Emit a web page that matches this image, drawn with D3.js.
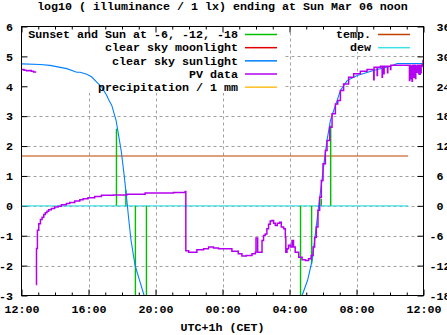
<!DOCTYPE html>
<html><head><meta charset="utf-8">
<script src="https://cdn.jsdelivr.net/npm/d3@7"></script>
<style>
html,body{margin:0;padding:0;background:#fff;}
svg{display:block;}
text{font-family:"Liberation Mono","DejaVu Sans Mono",monospace;font-weight:bold;font-size:11.67px;fill:#000;white-space:pre;}
</style></head>
<body>
<svg id="c" width="447" height="335"></svg>
<script>
// ---- data (time in hours from Mar 05 00:00; 24+ = Mar 06) ----
const title = "log10 ( illuminance / 1 lx) ending at Sun Mar 06 noon";
const xLabel = "UTC+1h (CET)";
const xTicks = [12,16,20,24,28,32,36];
const yTicks = [-3,-2,-1,0,1,2,3,4,5,6];
const y2Ticks = [-18,-12,-6,0,6,12,18,24,30,36];

// clear sky sunlight (log10 lx)
const sunEvening = [[12.03,4.75],[13.11,4.73],[13.70,4.70],[14.70,4.59],[15.30,4.47],[15.50,4.47],[15.90,4.40],[16.20,4.31],[16.49,4.14],[16.79,3.97],[17.09,3.69],[17.23,3.52],[17.39,3.36],[17.59,2.97],[17.65,2.85],[17.95,1.85],[18.13,1.02],[18.29,0.18],[18.41,-0.49],[18.54,-1.16],[18.78,-1.99],[19.08,-2.55],[19.32,-3.0]];
const sunMorning = [[28.75,-3.0],[29.08,-2.49],[29.35,-1.83],[29.50,-1.16],[29.64,-0.49],[29.78,0.18],[29.94,0.85],[30.08,1.52],[30.24,2.19],[30.44,2.85],[30.64,3.19],[30.84,3.52],[31.04,3.86],[31.44,4.19],[32.04,4.36],[33.01,4.53],[34.03,4.67],[34.43,4.76],[36.0,4.76]];

// sunset / sunrise and sun at -6, -12, -18 deg: [time, top value]
const sunEventTimes = [17.67,18.23,18.80,19.46,28.66,29.32,29.90,30.46];
const sunEventTops  = [2.58,0.54,-3.0,-3.0,-3.0,-1.94,0.24,2.69];

// PV data (log10 lx)
const pvNoon = [[12.00,4.56],[12.15,4.54],[12.30,4.52],[12.45,4.53],[12.58,4.50],[12.72,4.48],[12.88,4.48]];
const pvMain = [[12.89,-2.64],[12.895,-1.43],[12.95,-0.82],[13.03,-0.60],[13.13,-0.46],[13.23,-0.38],[13.33,-0.29],[13.42,-0.23],[13.52,-0.18],[13.62,-0.13],[13.78,-0.09],[13.98,-0.04],[14.18,-0.01],[14.38,0.04],[14.68,0.08],[14.88,0.11],[15.18,0.16],[15.48,0.20],[15.68,0.24],[15.97,0.27],[16.37,0.31],[16.77,0.35],[17.49,0.36],[18.29,0.39],[19.38,0.43],[21.07,0.45],[21.77,0.48],
 [21.81,-1.50],[21.98,-1.55],[22.47,-1.47],[22.87,-1.44],[23.17,-1.38],[23.46,-1.41],[23.76,-1.44],[24.56,-1.52],[24.94,-1.60],[25.16,-1.68],[25.42,-1.66],[25.76,-1.60],[25.96,-1.55],[26.00,-1.08],[26.10,-1.55],[26.36,-1.16],[26.45,-0.99],[26.55,-0.94],[26.65,-0.77],[26.75,-0.62],[26.85,-0.51],[26.95,-0.49],[27.05,-0.58],[27.15,-0.66],[27.27,-0.58],[27.41,-0.55],[27.51,-0.71],[27.65,-0.77],[27.75,-1.05],[27.78,-1.55],[27.85,-1.44],[27.94,-1.32],[28.05,-1.38],[28.15,-1.16],[28.24,-1.38],[28.34,-1.55],[28.55,-1.72],[28.75,-1.80],[28.95,-1.83],[29.14,-1.77],[29.29,-1.66],[29.41,-1.38],[29.50,-1.05],[29.60,-0.71],[29.70,-0.15],[29.80,0.29],[29.90,0.85],[30.00,1.41],[30.14,1.85],[30.24,2.19],[30.40,2.63],[30.54,3.08],[30.74,3.41],[30.88,3.52],[31.04,3.86],[31.23,4.08],[31.53,4.30],[31.83,4.42],[32.23,4.50],[32.63,4.56],
 [33.03,4.22],[33.05,4.64],[33.23,4.36],[33.25,4.64],[33.43,4.67],[33.53,4.30],[33.55,4.67],[33.63,4.42],[33.65,4.67],[33.85,4.45],[33.87,4.67],[34.03,4.56],[34.05,4.70],
 [35.10,4.70],[35.16,4.19],[35.18,4.70],[35.22,4.25],[35.24,4.68],[35.32,4.17],[35.34,4.70],[35.42,4.30],[35.44,4.70],[35.52,4.26],[35.54,4.68],[35.62,4.47],[35.64,4.70],[35.72,4.42],[35.76,4.40],[35.80,4.70],[35.84,4.45],[35.86,4.66],[35.92,4.72],[35.97,4.86],[36.0,4.86]];

// temperature and dew point (deg C, right axis)
const tempSeries = [[12.0,10.0],[35.08,10.0]];
const dewSeries  = [[12.0,0.0],[35.08,0.0]];

const legendLeft = [
  {label:"Sunset and Sun at -6, -12, -18", color:"#00c000"},
  {label:"clear sky moonlight", color:"#e00000"},
  {label:"clear sky sunlight", color:"#0080ff"},
  {label:"PV data", color:"#b400f0"},
  {label:"precipitation / 1 mm", color:"#ffc020"}];
const legendRight = [
  {label:"temp.", color:"#c04000"},
  {label:"dew", color:"#40e0e8"}];

// ---- drawing ----
const svg = d3.select("#c");
const L=21.5, R=423.5, T=26.5, B=295.5;
const x = d3.scaleLinear().domain([12,36]).range([L,R]);
const y = d3.scaleLinear().domain([-3,6]).range([B,T]);
const y2 = d3.scaleLinear().domain([-18,36]).range([B,T]);
const hh = d => String(d%24).padStart(2,"0")+":00";

svg.append("text").attr("x",(L+R)/2).attr("y",9.5).attr("text-anchor","middle").text(title);
svg.append("text").attr("x",(L+R)/2).attr("y",331).attr("text-anchor","middle").text(xLabel);

// grid
const grid = svg.append("g").attr("stroke","#a0a0a0").attr("stroke-width",1).attr("stroke-dasharray","3,3");
xTicks.filter(t=>t>12&&t<36).forEach(t=>grid.append("line").attr("x1",Math.round(x(t))+0.5).attr("x2",Math.round(x(t))+0.5).attr("y1",T).attr("y2",B));
yTicks.filter(t=>t>-3&&t<6).forEach(t=>grid.append("line").attr("x1",L).attr("x2",R).attr("y1",Math.round(y(t))+0.5).attr("y2",Math.round(y(t))+0.5));

// opaque key boxes
svg.append("rect").attr("x",L+0.5).attr("y",T+0.5).attr("width",262).attr("height",66).attr("fill","#fff");
svg.append("rect").attr("x",326).attr("y",T+0.5).attr("width",R-326-0.5).attr("height",25).attr("fill","#fff");

// axes
function styleAxis(g){ g.select(".domain").remove(); g.selectAll("line").attr("stroke","#000"); g.selectAll("text").attr("font-family",null).attr("font-size",null).attr("fill",null); g.attr("font-family",null).attr("font-size",null); }
const minor = d3.range(12,37,1).filter(h=>h%4!==0);
svg.append("g").attr("transform",`translate(0,${B})`).call(d3.axisBottom(x).tickValues(xTicks).tickFormat(hh).tickSize(-6).tickPadding(9)).call(styleAxis);
svg.append("g").attr("transform",`translate(0,${B})`).call(d3.axisBottom(x).tickValues(minor).tickFormat("").tickSize(-3)).call(styleAxis);
svg.append("g").attr("transform",`translate(0,${T})`).call(d3.axisTop(x).tickValues(xTicks).tickFormat("").tickSize(-6)).call(styleAxis);
svg.append("g").attr("transform",`translate(0,${T})`).call(d3.axisTop(x).tickValues(minor).tickFormat("").tickSize(-3)).call(styleAxis);
svg.append("g").attr("transform",`translate(${L},0)`).call(d3.axisLeft(y).tickValues(yTicks).tickFormat(d=>String(d)).tickSize(-6).tickPadding(8.5)).call(styleAxis);
svg.append("g").attr("transform",`translate(${R},0)`).call(d3.axisRight(y2).tickValues(y2Ticks).tickFormat(d=>(d<0?"":"\u00a0")+String(d)).tickSize(-6).tickPadding(6)).call(styleAxis);

// clip
svg.append("clipPath").attr("id","clip").append("rect").attr("x",L).attr("y",T).attr("width",R-L).attr("height",B-T);
const plot = svg.append("g").attr("clip-path","url(#clip)").attr("fill","none");

const lineY = d3.line().x(d=>x(d[0])).y(d=>y(d[1]));
const stepY = d3.line().x(d=>x(d[0])).y(d=>y(d[1])).curve(d3.curveStepAfter);
const lineY2 = d3.line().x(d=>x(d[0])).y(d=>y2(d[1]));

plot.append("path").attr("d",lineY2(dewSeries)).attr("stroke",legendRight[1].color).attr("stroke-width",1.2);
plot.append("path").attr("d",lineY2(tempSeries)).attr("stroke",legendRight[0].color).attr("stroke-width",1.2);
sunEventTimes.forEach((t,i)=>plot.append("line").attr("x1",x(t)).attr("x2",x(t)).attr("y1",y(0)).attr("y2",y(sunEventTops[i])).attr("stroke",legendLeft[0].color).attr("stroke-width",1.4));
plot.append("path").attr("d",lineY(sunEvening)).attr("stroke",legendLeft[2].color).attr("stroke-width",1.1);
plot.append("path").attr("d",lineY(sunMorning)).attr("stroke",legendLeft[2].color).attr("stroke-width",1.1);
plot.append("path").attr("d",stepY(pvNoon)).attr("stroke",legendLeft[3].color).attr("stroke-width",1.5);
plot.append("path").attr("d",stepY(pvMain)).attr("stroke",legendLeft[3].color).attr("stroke-width",1.5);

// frame
svg.append("rect").attr("x",L).attr("y",T).attr("width",R-L).attr("height",B-T).attr("fill","none").attr("stroke","#000").attr("stroke-width",1);

// legends
const rowY = i => 34.5 + i*13.17;
legendLeft.forEach((d,i)=>{
  svg.append("text").attr("x",238).attr("y",rowY(i)+3.8).attr("text-anchor","end").text(d.label);
  svg.append("line").attr("x1",245).attr("x2",277).attr("y1",rowY(i)).attr("y2",rowY(i)).attr("stroke",d.color).attr("stroke-width",1.5);
});
legendRight.forEach((d,i)=>{
  svg.append("text").attr("x",371).attr("y",rowY(i)+3.8).attr("text-anchor","end").text(d.label);
  svg.append("line").attr("x1",378).attr("x2",410).attr("y1",rowY(i)).attr("y2",rowY(i)).attr("stroke",d.color).attr("stroke-width",1.5);
});
</script>
</body></html>
